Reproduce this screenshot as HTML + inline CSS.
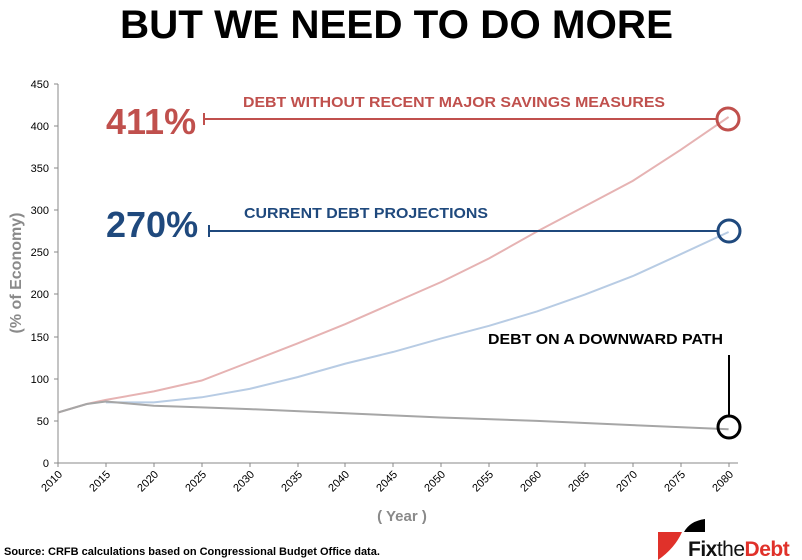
<!DOCTYPE html>
<html><head><meta charset="utf-8"><style>
body{margin:0;background:#fff;}
svg{display:block;font-family:"Liberation Sans",Arial,sans-serif;}
</style></head><body>
<svg width="802" height="560" viewBox="0 0 802 560" xmlns="http://www.w3.org/2000/svg">
<text x="120" y="38" font-size="40" font-weight="bold" fill="#000" textLength="553" lengthAdjust="spacingAndGlyphs">BUT WE NEED TO DO MORE</text>
<g stroke="#888" stroke-width="1">
<line x1="58" y1="84" x2="58" y2="463"/>
<line x1="58" y1="463" x2="738" y2="463"/>
<line x1="54" y1="84" x2="58" y2="84"/><line x1="54" y1="126" x2="58" y2="126"/><line x1="54" y1="168" x2="58" y2="168"/><line x1="54" y1="210" x2="58" y2="210"/><line x1="54" y1="252" x2="58" y2="252"/><line x1="54" y1="294" x2="58" y2="294"/><line x1="54" y1="337" x2="58" y2="337"/><line x1="54" y1="379" x2="58" y2="379"/><line x1="54" y1="421" x2="58" y2="421"/><line x1="54" y1="463" x2="58" y2="463"/>
</g>
<g stroke="#888" stroke-width="1">
<line x1="58" y1="463" x2="58" y2="467"/><line x1="106" y1="463" x2="106" y2="467"/><line x1="154" y1="463" x2="154" y2="467"/><line x1="202" y1="463" x2="202" y2="467"/><line x1="250" y1="463" x2="250" y2="467"/><line x1="298" y1="463" x2="298" y2="467"/><line x1="345" y1="463" x2="345" y2="467"/><line x1="393" y1="463" x2="393" y2="467"/><line x1="441" y1="463" x2="441" y2="467"/><line x1="489" y1="463" x2="489" y2="467"/><line x1="537" y1="463" x2="537" y2="467"/><line x1="585" y1="463" x2="585" y2="467"/><line x1="633" y1="463" x2="633" y2="467"/><line x1="681" y1="463" x2="681" y2="467"/><line x1="729" y1="463" x2="729" y2="467"/>
</g>
<g font-size="11" fill="#000" text-anchor="end">
<text x="49" y="88">450</text><text x="49" y="130">400</text><text x="49" y="172">350</text><text x="49" y="214">300</text><text x="49" y="256">250</text><text x="49" y="298">200</text><text x="49" y="341">150</text><text x="49" y="383">100</text><text x="49" y="425">50</text><text x="49" y="467">0</text>
</g>
<g font-size="11" fill="#000" text-anchor="end">
<text transform="translate(63,475) rotate(-45)">2010</text>
<text transform="translate(111,475) rotate(-45)">2015</text>
<text transform="translate(159,475) rotate(-45)">2020</text>
<text transform="translate(207,475) rotate(-45)">2025</text>
<text transform="translate(255,475) rotate(-45)">2030</text>
<text transform="translate(303,475) rotate(-45)">2035</text>
<text transform="translate(350,475) rotate(-45)">2040</text>
<text transform="translate(398,475) rotate(-45)">2045</text>
<text transform="translate(446,475) rotate(-45)">2050</text>
<text transform="translate(494,475) rotate(-45)">2055</text>
<text transform="translate(542,475) rotate(-45)">2060</text>
<text transform="translate(590,475) rotate(-45)">2065</text>
<text transform="translate(638,475) rotate(-45)">2070</text>
<text transform="translate(686,475) rotate(-45)">2075</text>
<text transform="translate(734,475) rotate(-45)">2080</text>
</g>
<text transform="translate(21,273) rotate(-90)" text-anchor="middle" font-size="16" font-weight="bold" fill="#8a8a8a">(% of Economy)</text>
<text x="402" y="521" text-anchor="middle" font-size="15" font-weight="bold" fill="#8a8a8a">( Year )</text>
<polyline fill="none" stroke="#e6b3b3" stroke-width="2" points="58,412.5 86.7,404 105.9,399.9 153.8,391.4 201.7,380.5 249.6,362 297.5,343.4 345.4,324.1 393.3,303 441.2,282 489.1,258.4 537,231.5 584.9,206.2 632.8,180.9 680.7,149.8 728.6,117"/>
<polyline fill="none" stroke="#b8cce4" stroke-width="2" points="105.9,402.4 153.8,402.4 201.7,397.3 249.6,388.9 297.5,377.1 345.4,363.6 393.3,351.9 441.2,338.4 489.1,325.8 537,311.4 584.9,294.6 632.8,276.1 680.7,254.2 728.6,232"/>
<polyline fill="none" stroke="#a6a6a6" stroke-width="2" points="58,412.5 86.7,404 105.9,401.5 153.8,405.7 201.7,407.4 249.6,409.1 345.4,413.3 441.2,417.5 537,420.9 632.8,425.1 728.6,429.3"/>
<text x="106" y="134" font-size="36" font-weight="bold" fill="#c0504d">411%</text>
<text x="243" y="107" font-size="15" font-weight="bold" fill="#c0504d" textLength="422" lengthAdjust="spacingAndGlyphs">DEBT WITHOUT RECENT MAJOR SAVINGS MEASURES</text>
<line x1="204" y1="119" x2="716" y2="119" stroke="#c0504d" stroke-width="2"/>
<line x1="204" y1="113" x2="204" y2="125" stroke="#c0504d" stroke-width="2"/>
<circle cx="728" cy="119" r="11" fill="none" stroke="#c0504d" stroke-width="3"/>
<text x="106" y="237" font-size="36" font-weight="bold" fill="#1f497d">270%</text>
<text x="244" y="218" font-size="15" font-weight="bold" fill="#1f497d" textLength="244" lengthAdjust="spacingAndGlyphs">CURRENT DEBT PROJECTIONS</text>
<line x1="209" y1="231" x2="717" y2="231" stroke="#1f497d" stroke-width="2"/>
<line x1="209" y1="225" x2="209" y2="237" stroke="#1f497d" stroke-width="2"/>
<circle cx="729" cy="231" r="11" fill="none" stroke="#1f497d" stroke-width="3"/>
<text x="488" y="344" font-size="15" font-weight="bold" fill="#000" textLength="235" lengthAdjust="spacingAndGlyphs">DEBT ON A DOWNWARD PATH</text>
<line x1="729" y1="355" x2="729" y2="416" stroke="#000" stroke-width="2"/>
<circle cx="729" cy="427" r="11" fill="none" stroke="#000" stroke-width="3"/>
<text x="4" y="555" font-size="11" font-weight="bold" fill="#000">Source: CRFB  calculations based on Congressional Budget Office data.</text>
<path d="M658,532 L682,532 Q675,548 658,560 Z" fill="#e0312a"/>
<path d="M686,519 L705,519 L705,532 L684,532 Q690,521 705,519 Z" fill="#000"/>
<text x="688" y="556" font-size="21" font-weight="bold" fill="#111" letter-spacing="-0.5">Fix<tspan font-weight="normal">the</tspan><tspan fill="#e0312a">Debt</tspan></text>
</svg>
</body></html>
